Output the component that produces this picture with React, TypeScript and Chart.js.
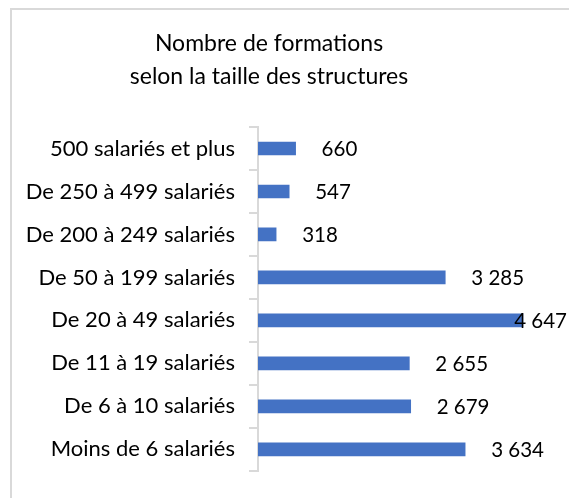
import React, { useEffect, useRef } from "react";
import { Chart, registerables } from "chart.js";

Chart.register(...registerables);

const titleLines = ["Nombre de formations", "selon la taille des structures"];
const categories = [
  "500 salariés et plus",
  "De 250 à 499 salariés",
  "De 200 à 249 salariés",
  "De 50 à 199 salariés",
  "De 20 à 49 salariés",
  "De 11 à 19 salariés",
  "De 6 à 10 salariés",
  "Moins de 6 salariés",
];
const values = [660, 547, 318, 3285, 4647, 2655, 2679, 3634];
const xMax = 5000;

const FONT = "Lato, 'Noto Sans', sans-serif";
const TEXT = "#000000";
const BAR = "#4472C4";

function fmt(v: number): string {
  return String(v).replace(/\B(?=(\d{3})+(?!\d))/g, " ");
}

const framePlugin = {
  id: "frame",
  beforeDraw(chart: any) {
    const ctx = chart.ctx;
    ctx.save();
    ctx.fillStyle = "#ffffff";
    ctx.fillRect(0, 0, chart.width, chart.height);
    ctx.fillStyle = "#d9d9d9";
    ctx.fillRect(10, 8, chart.width - 10, 2);
    ctx.fillRect(10, 8, 2, chart.height - 8);
    ctx.restore();
  },
  afterDraw(chart: any) {
    const ctx = chart.ctx;
    ctx.save();
    ctx.fillStyle = TEXT;
    ctx.textAlign = "center";
    ctx.textBaseline = "alphabetic";
    ctx.font = `23px ${FONT}`;
    ctx.fillText(titleLines[0], 269, 51);
    ctx.fillText(titleLines[1], 269, 84);

    ctx.font = `20.5px ${FONT}`;
    ctx.textAlign = "left";
    ctx.textBaseline = "middle";
    const meta = chart.getDatasetMeta(0);
    meta.data.forEach((bar: any, i: number) => {
      const label = fmt(values[i]);
      const w = ctx.measureText(label).width;
      let x = bar.x + 26;
      if (x + w > chart.width - 2) x = chart.width - 2 - w;
      ctx.fillText(label, x, bar.y + 1);
    });
    ctx.restore();
  },
};

export default function App() {
  const ref = useRef<HTMLCanvasElement | null>(null);
  useEffect(() => {
    if (!ref.current) return;
    const chart = new Chart(ref.current, {
      type: "bar",
      data: {
        labels: categories,
        datasets: [
          {
            data: values,
            backgroundColor: BAR,
            borderWidth: 0,
            barThickness: 13,
          },
        ],
      },
      options: {
        indexAxis: "y",
        animation: false,
        responsive: false,
        maintainAspectRatio: false,
        layout: { padding: { top: 127, bottom: 23, left: 0, right: 26 } },
        plugins: {
          legend: { display: false },
          title: { display: false },
          tooltip: { enabled: false },
        },
        scales: {
          x: {
            display: false,
            min: 0,
            max: xMax,
          },
          y: {
            afterFit(scale: any) {
              scale.width = 258;
            },
            border: { display: true, color: "#d9d9d9", width: 2 },
            grid: {
              display: true,
              drawOnChartArea: false,
              drawTicks: true,
              tickLength: 9,
              offset: true,
              color: "#d9d9d9",
              lineWidth: 2,
            },
            ticks: {
              color: TEXT,
              padding: 14,
              font: { family: FONT, size: 22 },
              autoSkip: false,
            },
          },
        },
      },
      plugins: [framePlugin],
    });
    return () => chart.destroy();
  }, []);
  return (
    <div style={{ position: "fixed", left: 0, top: 0, width: 569, height: 498, background: "#fff" }}>
      <canvas ref={ref} width={569} height={498} style={{ width: 569, height: 498, display: "block" }} />
    </div>
  );
}
